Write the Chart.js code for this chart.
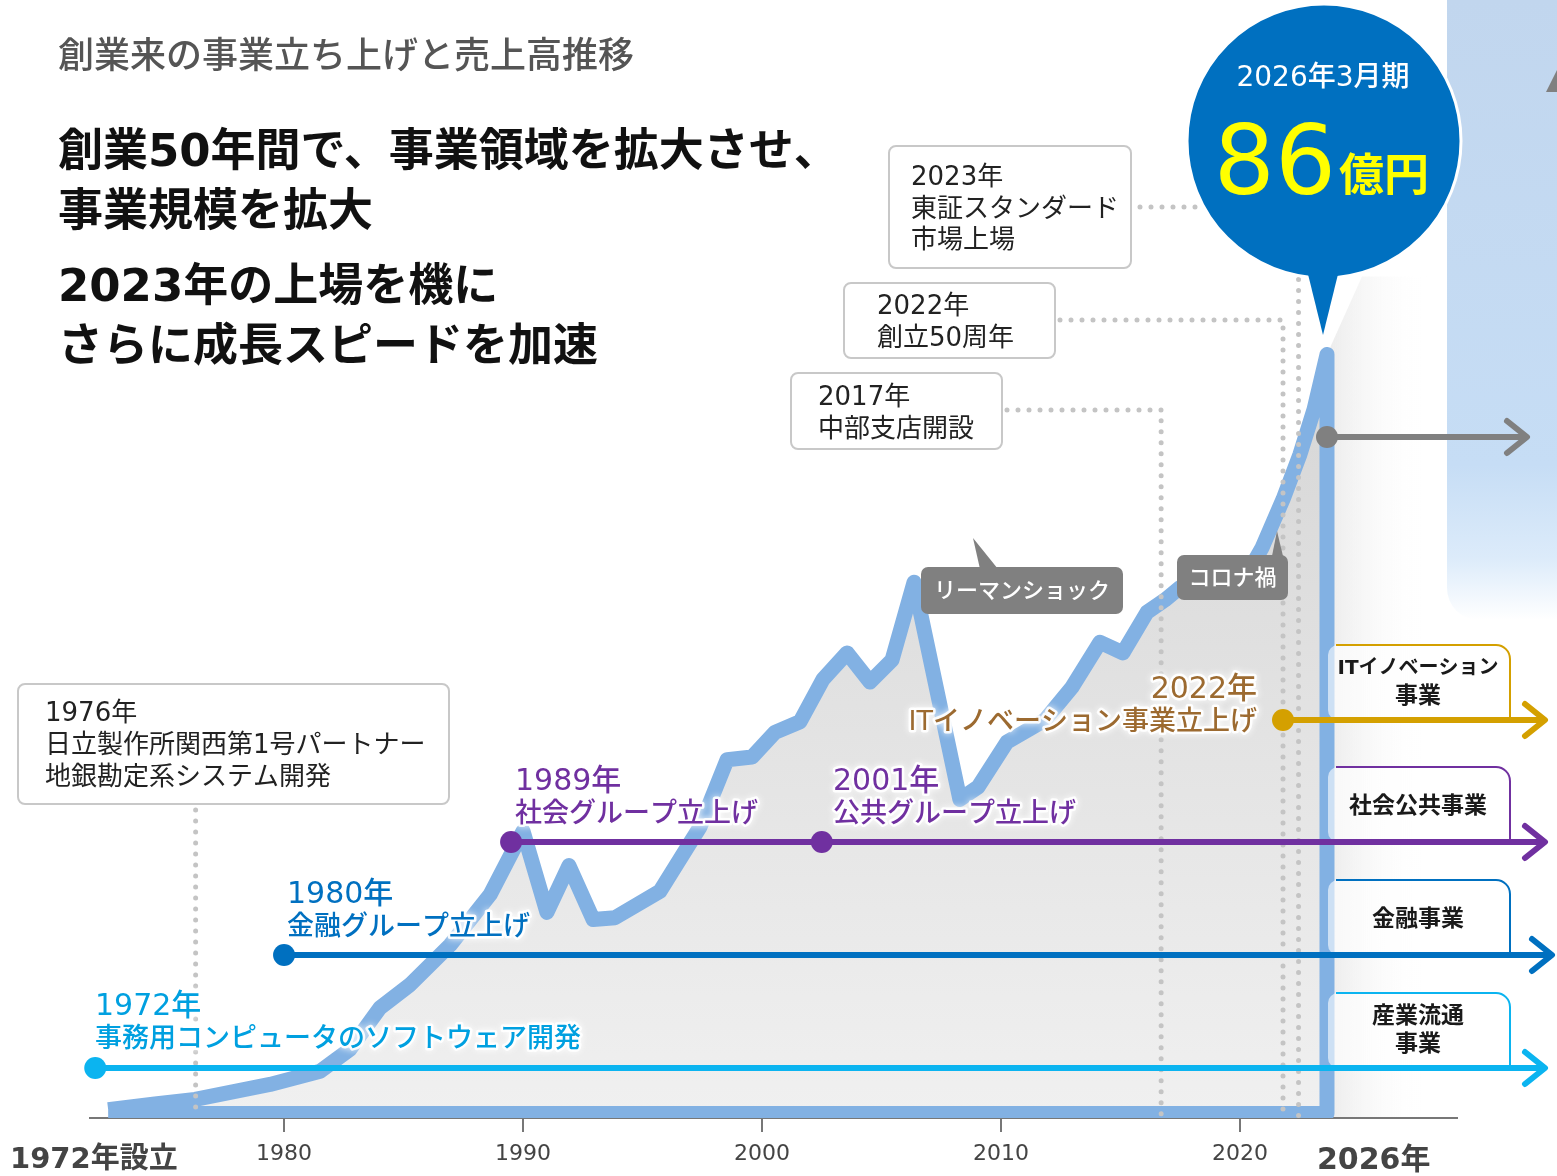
<!DOCTYPE html>
<html lang="ja">
<head>
<meta charset="utf-8">
<title>創業来の事業立ち上げと売上高推移</title>
<script src="https://cdn.jsdelivr.net/npm/chart.js@4/dist/chart.umd.min.js"></script>
<style>
  html, body { margin: 0; padding: 0; background: #fff; }
  #wrap { width: 1557px; height: 1176px; }
</style>
</head>
<body>
<div id="wrap"><canvas id="c" width="1557" height="1176"></canvas></div>
<script>
// 売上高推移 (億円) - x は年
const years = [1972.64, 1974.6, 1976.28, 1979.41, 1981.51, 1982.76, 1984.02, 1985.27, 1986.95, 1988.62,
  1990.0, 1991.0, 1991.92, 1992.93, 1993.85, 1995.73, 1997.41, 1998.54, 1999.58, 2000.54,
  2001.59, 2002.55, 2003.56, 2004.52, 2005.44, 2006.36, 2008.28, 2009.04, 2010.25, 2011.84,
  2012.97, 2014.14, 2015.10, 2016.11, 2016.86, 2017.49, 2018.74, 2019.87, 2020.92, 2021.80,
  2022.51, 2023.10, 2023.64];
const sales = [0.45, 1.1, 1.6, 3.3, 4.8, 7.3, 12.0, 14.6, 19.1, 24.8,
  32.0, 22.8, 28.1, 22.0, 22.2, 25.2, 32.5, 40.1, 40.4, 43.2,
  44.4, 49.2, 52.2, 48.9, 51.4, 60.2, 35.6, 37.0, 42.1, 44.6,
  48.3, 53.4, 52.2, 56.8, 58.2, 59.6, 60.0, 59.1, 64.1, 69.6,
  74.7, 79.8, 86.0];

const tickYears = [1980, 1990, 2000, 2010, 2020];

// 事業ライン
const laneNames = [['産業流通', '事業'], ['金融事業'], ['社会公共事業'], ['ITイノベーション', '事業']];
const laneStart = [1972.1, 1980.0, 1989.5, 2021.8];
const laneColors = ['#0BB4F0', '#0070C0', '#7030A0', '#D4A000'];
const laneY = [1068, 955, 842, 720];
const publicStart = 2002.5;

// 立上げラベル
const eventYears = ['1972年', '1980年', '1989年', '2001年', '2022年'];
const eventTexts = ['事務用コンピュータのソフトウェア開発', '金融グループ立上げ', '社会グループ立上げ', '公共グループ立上げ', 'ITイノベーション事業立上げ'];

// 沿革の吹き出し
const milestoneYears = [1976.3, 2016.7, 2021.8, 2022.45];
const milestoneTexts = [
  ['1976年', '日立製作所関西第1号パートナー', '地銀勘定系システム開発'],
  ['2017年', '中部支店開設'],
  ['2022年', '創立50周年'],
  ['2023年', '東証スタンダード', '市場上場']
];

// 数字は Verdana 系 (DejaVu Sans)、かな漢字は Noto
const JP = '"DejaVu Sans", "Noto Sans CJK JP", sans-serif';
const lastYear = years[years.length - 1];
const lastSales = sales[sales.length - 1];

function txt(ctx, s, x, y, size, color, opts) {
  opts = opts || {};
  ctx.save();
  ctx.font = (opts.weight || 'normal') + ' ' + size + 'px ' + JP;
  ctx.textAlign = opts.align || 'left';
  ctx.textBaseline = opts.base || 'middle';
  if (!opts.base) y += size * 0.1;
  if (opts.glow) {
    ctx.shadowColor = 'rgba(255,255,255,1)';
    ctx.shadowBlur = 7;
    ctx.strokeStyle = 'rgba(255,255,255,0.9)';
    ctx.lineWidth = 5;
    ctx.lineJoin = 'round';
    ctx.strokeText(s, x, y);
    ctx.shadowBlur = 0;
  }
  ctx.fillStyle = color;
  ctx.fillText(s, x, y);
  ctx.restore();
}

function roundRect(ctx, x, y, w, h, r) {
  ctx.beginPath();
  ctx.moveTo(x + r, y);
  ctx.arcTo(x + w, y, x + w, y + h, r);
  ctx.arcTo(x + w, y + h, x, y + h, r);
  ctx.arcTo(x, y + h, x, y, r);
  ctx.arcTo(x, y, x + w, y, r);
  ctx.closePath();
}

function dotted(ctx, pts) {
  ctx.save();
  ctx.strokeStyle = '#c4c4c4';
  ctx.lineWidth = 5;
  ctx.lineCap = 'round';
  ctx.setLineDash([0, 11]);
  ctx.beginPath();
  ctx.moveTo(pts[0][0], pts[0][1]);
  for (let i = 1; i < pts.length; i++) ctx.lineTo(pts[i][0], pts[i][1]);
  ctx.stroke();
  ctx.restore();
}

function arrow(ctx, x1, x2, y, color) {
  ctx.save();
  ctx.strokeStyle = color;
  ctx.lineWidth = 6;
  ctx.lineCap = 'round';
  ctx.lineJoin = 'round';
  ctx.beginPath();
  ctx.moveTo(x1, y);
  ctx.lineTo(x2 - 3, y);
  ctx.stroke();
  ctx.beginPath();
  ctx.moveTo(x2 - 20, y - 16);
  ctx.lineTo(x2, y);
  ctx.lineTo(x2 - 20, y + 16);
  ctx.stroke();
  ctx.restore();
}

function dot(ctx, x, y, r, color) {
  ctx.beginPath();
  ctx.arc(x, y, r, 0, Math.PI * 2);
  ctx.fillStyle = color;
  ctx.fill();
}

function grayCallout(ctx, s, bx, by, bw, bh, tri) {
  ctx.save();
  ctx.fillStyle = '#808080';
  roundRect(ctx, bx, by, bw, bh, 7);
  ctx.fill();
  ctx.beginPath();
  ctx.moveTo(tri[0][0], tri[0][1]);
  ctx.lineTo(tri[1][0], tri[1][1]);
  ctx.lineTo(tri[2][0], tri[2][1]);
  ctx.closePath();
  ctx.fill();
  ctx.restore();
  txt(ctx, s, bx + bw / 2, by + bh / 2, 22, '#fff', { align: 'center', weight: 500 });
}

function whiteBox(ctx, x, y, w, h, lines, tx, ty, gap) {
  ctx.save();
  roundRect(ctx, x, y, w, h, 7);
  ctx.fillStyle = '#fff';
  ctx.fill();
  ctx.strokeStyle = '#c8c8c8';
  ctx.lineWidth = 2;
  ctx.stroke();
  ctx.restore();
  lines.forEach((l, i) => txt(ctx, l, tx, ty + i * gap, 26, '#222'));
}

const decor = {
  id: 'decor',
  beforeDraw(chart) {
    const ctx = chart.ctx;
    const xs = chart.scales.x, ys = chart.scales.y;
    ctx.save();
    // 右上の水色パネル
    const g = ctx.createLinearGradient(0, 0, 0, 620);
    g.addColorStop(0, '#C1D6EE');
    g.addColorStop(0.75, '#C6DDF5');
    g.addColorStop(0.9, '#DCEBFA');
    g.addColorStop(1, 'rgba(255,255,255,1)');
    ctx.fillStyle = g;
    roundRect(ctx, 1447, -40, 160, 660, 32);
    ctx.fill();
    ctx.fillStyle = '#808080';
    ctx.beginPath();
    ctx.moveTo(1546, 92);
    ctx.lineTo(1557, 70);
    ctx.lineTo(1557, 92);
    ctx.closePath();
    ctx.fill();

    // 今後の伸び (薄いグレー)
    const x0 = xs.getPixelForValue(lastYear);
    const yTop = ys.getPixelForValue(lastSales);
    const yb = ys.getPixelForValue(0) + 4;
    const gf = ctx.createLinearGradient(x0, 0, x0 + 100, 0);
    gf.addColorStop(0, '#ebebeb');
    gf.addColorStop(1, 'rgba(255,255,255,0)');
    ctx.fillStyle = gf;
    ctx.beginPath();
    ctx.moveTo(x0, yb);
    ctx.lineTo(x0, yTop);
    ctx.lineTo(x0 + 35, yTop - 78);
    ctx.lineTo(x0 + 120, yTop - 78);
    ctx.lineTo(x0 + 120, yb);
    ctx.closePath();
    ctx.fill();
    ctx.restore();
  },
  afterDraw(chart) {
    const ctx = chart.ctx;
    const xs = chart.scales.x, ys = chart.scales.y;
    const px = v => xs.getPixelForValue(v);
    const base = ys.getPixelForValue(-0.5);

    // 見出し
    txt(ctx, '創業来の事業立ち上げと売上高推移', 58, 55, 36, '#555', { weight: 500 });
    txt(ctx, '創業50年間で、事業領域を拡大させ、', 58, 150, 45, '#111', { weight: 'bold' });
    txt(ctx, '事業規模を拡大', 58, 210, 45, '#111', { weight: 'bold' });
    txt(ctx, '2023年の上場を機に', 58, 285, 45, '#111', { weight: 'bold' });
    txt(ctx, 'さらに成長スピードを加速', 58, 345, 45, '#111', { weight: 'bold' });

    // 点線
    dotted(ctx, [[px(milestoneYears[0]), 810], [px(milestoneYears[0]), base]]);
    dotted(ctx, [[1007, 410], [px(milestoneYears[1]), 410], [px(milestoneYears[1]), base]]);
    dotted(ctx, [[1060, 320], [px(milestoneYears[2]), 320], [px(milestoneYears[2]), base]]);
    dotted(ctx, [[1140, 207], [px(milestoneYears[3]), 207], [px(milestoneYears[3]), base]]);

    // 右側の事業ボックス
    laneNames.forEach((nm, i) => {
      const top = laneY[i] - 75;
      ctx.save();
      roundRect(ctx, 1328, top, 182, 75, 10);
      ctx.fillStyle = 'rgba(255,255,255,0.6)';
      ctx.fill();
      ctx.strokeStyle = laneColors[i];
      ctx.lineWidth = 2;
      ctx.beginPath();
      ctx.moveTo(1336, top);
      ctx.arcTo(1510, top, 1510, top + 14, 14);
      ctx.lineTo(1510, laneY[i]);
      ctx.stroke();
      ctx.restore();
      if (nm.length === 2) {
        const fs = nm[0].length > 6 ? 20 : 23;
        txt(ctx, nm[0], 1418, top + 22, fs, '#1a1a1a', { align: 'center', weight: 'bold' });
        txt(ctx, nm[1], 1418, top + 50, 23, '#1a1a1a', { align: 'center', weight: 'bold' });
      } else {
        txt(ctx, nm[0], 1418, top + 38, 23, '#1a1a1a', { align: 'center', weight: 'bold' });
      }
    });

    // 事業ライン (矢印)
    const ends = [1545, 1552, 1545, 1545];
    laneNames.forEach((nm, i) => {
      arrow(ctx, px(laneStart[i]), ends[i], laneY[i], laneColors[i]);
      dot(ctx, px(laneStart[i]), laneY[i], 11, laneColors[i]);
    });
    dot(ctx, px(publicStart), laneY[2], 11, laneColors[2]);
    // 現在の売上水準
    const yNow = 437;
    arrow(ctx, px(lastYear), 1527, yNow, '#808080');
    dot(ctx, px(lastYear), yNow, 11, '#808080');

    // 立上げラベル
    const ev = [[95, 1004, '#00A0E0', 'left'], [287, 892, '#0070C0', 'left'], [515, 779, '#7030A0', 'left'],
      [833, 779, '#7030A0', 'left'], [1257, 687, '#9C6A30', 'right']];
    ev.forEach((e, i) => {
      txt(ctx, eventYears[i], e[0], e[1], 30, e[2], { glow: true, align: e[3], weight: 500 });
      txt(ctx, eventTexts[i], e[0], e[1] + 33, 27, e[2], { glow: true, align: e[3], weight: 500 });
    });

    // 沿革ボックス
    whiteBox(ctx, 18, 684, 431, 120, milestoneTexts[0], 45, 712, 32);
    whiteBox(ctx, 791, 373, 211, 76, milestoneTexts[1], 818, 396, 32);
    whiteBox(ctx, 844, 283, 211, 75, milestoneTexts[2], 877, 305, 32);
    whiteBox(ctx, 889, 146, 242, 122, milestoneTexts[3], 911, 176, 31.5);

    // グレーの吹き出し
    grayCallout(ctx, 'リーマンショック', 921, 567, 202, 47, [[973, 538], [980, 569], [998, 569]]);
    grayCallout(ctx, 'コロナ禍', 1177, 555, 111, 45, [[1277, 531], [1272, 556], [1283, 556]]);

    // 2026年3月期 吹き出し
    ctx.save();
    ctx.fillStyle = '#0070C0';
    ctx.beginPath();
    ctx.arc(1324, 141, 137, 0, Math.PI * 2);
    ctx.fill();
    ctx.strokeStyle = '#fff';
    ctx.lineWidth = 3;
    ctx.stroke();
    ctx.beginPath();
    ctx.moveTo(1305, 262);
    ctx.lineTo(1323, 335);
    ctx.lineTo(1341, 262);
    ctx.closePath();
    ctx.fill();
    ctx.restore();
    txt(ctx, '2026年3月期', 1323, 76, 28, '#fff', { align: 'center', weight: 500 });
    txt(ctx, String(lastSales), 1336, 194, 96, '#FFFF00', { align: 'right', base: 'alphabetic' });
    txt(ctx, '億円', 1339, 191, 45, '#FFFF00', { weight: 'bold', base: 'alphabetic' });

    // 軸の両端ラベル
    txt(ctx, '1972年設立', 10, 1158, 29, '#444', { weight: 'bold' });
    txt(ctx, '2026年', 1317, 1158, 30, '#444', { weight: 'bold' });
  }
};

// 外周線 (上側の推移 → 右端で縦に下りる → 底辺を戻る)
const outline = years.map((y, i) => ({ x: y, y: sales[i] }));
outline.push({ x: lastYear, y: 0 });
outline.push({ x: years[0], y: 0 });

new Chart(document.getElementById('c'), {
  type: 'line',
  data: {
    datasets: [
      {
        label: '外周',
        data: outline,
        order: 1,
        pointRadius: 0,
        borderColor: '#82B1E3',
        borderWidth: 15,
        borderJoinStyle: 'round',
        tension: 0,
        fill: false
      },
      {
        label: '売上高',
        data: years.map((y, i) => ({ x: y, y: sales[i] })),
        order: 2,
        pointRadius: 0,
        borderWidth: 0,
        borderColor: 'rgba(0,0,0,0)',
        fill: 'origin',
        backgroundColor: function (c) {
          const ch = c.chart;
          if (!ch.chartArea) return '#e4e4e4';
          const ys = ch.scales.y;
          const g = ch.ctx.createLinearGradient(0, ys.getPixelForValue(86), 0, ys.getPixelForValue(0));
          g.addColorStop(0, '#d6d6d6');
          g.addColorStop(1, '#f0f0f0');
          return g;
        }
      }
    ]
  },
  options: {
    responsive: false,
    animation: false,
    devicePixelRatio: 1,
    layout: { padding: { left: 90, right: 100, top: 54.5, bottom: 0 } },
    plugins: { legend: { display: false }, tooltip: { enabled: false } },
    scales: {
      x: {
        type: 'linear',
        min: 1971.88,
        max: 2029.08,
        z: 1,
        afterFit: s => { s.height = 58; },
        afterBuildTicks: s => { s.ticks = tickYears.map(v => ({ value: v })); },
        grid: { drawOnChartArea: false, color: '#777', lineWidth: 2, tickLength: 14 },
        border: { color: '#777', width: 2 },
        ticks: {
          color: '#444',
          padding: 9,
          font: { family: JP, size: 22 },
          callback: v => String(v)
        }
      },
      y: { display: false, min: -0.5, max: 120 }
    }
  },
  plugins: [decor]
});
</script>
</body>
</html>
